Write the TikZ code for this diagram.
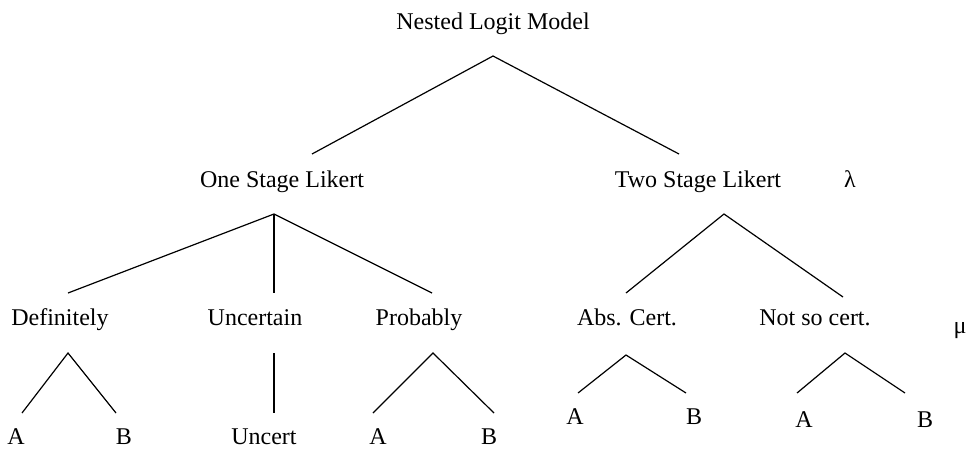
\documentclass[tikz,border=0pt]{standalone}
\usepackage{fontspec}
\setmainfont{Liberation Serif}
\usepackage{tikz}

\begin{document}
\begin{tikzpicture}[x=1pt,y=-1pt,line width=1.2pt,
	every node/.style={anchor=base,inner sep=0pt,font=\fontsize{24}{28}\selectfont}]
	\useasboundingbox (0,0) rectangle (974,448);

	% labels
	\node (0) at (493,29) {Nested Logit Model};
	\node (1) at (282,187) {One Stage Likert};
	\node (2) at (698,187) {Two Stage Likert};
	\node (lam) at (850,187) {λ};
	\node (11) at (60,325) {Definitely};
	\node (12) at (255,325) {Uncertain};
	\node (13) at (419,325) {Probably};
	\node (21) at (627,325) {Abs. Cert.};
	\node (22) at (815,325) {Not so cert.};
	\node (mu) at (960,333) {μ};
	\node (111) at (16,444) {A};
	\node (112) at (124,444) {B};
	\node (121) at (264,444) {Uncert};
	\node (131) at (378,444) {A};
	\node (132) at (489,444) {B};
	\node (211) at (575,424) {A};
	\node (212) at (694,424) {B};
	\node (221) at (804,427) {A};
	\node (222) at (925,427) {B};

	% branch points
	\coordinate (r) at (493,56);
	\coordinate (r1) at (312,154);
	\coordinate (r2) at (679,154);
	\coordinate (o) at (274,214);
	\coordinate (o1) at (68,293);
	\coordinate (o2) at (274,293);
	\coordinate (o3) at (432,293);
	\coordinate (t) at (724,214);
	\coordinate (t1) at (626,293);
	\coordinate (t2) at (843,297);
	\coordinate (d) at (68,353);
	\coordinate (d1) at (22,413);
	\coordinate (d2) at (116,413);
	\coordinate (u) at (274,353);
	\coordinate (u1) at (274,413);
	\coordinate (p) at (433,353);
	\coordinate (p1) at (373,413);
	\coordinate (p2) at (494,413);
	\coordinate (a) at (626,355);
	\coordinate (a1) at (578,393);
	\coordinate (a2) at (686,393);
	\coordinate (n) at (845,353);
	\coordinate (n1) at (797,393);
	\coordinate (n2) at (905,393);

	\draw (r1) -- (r) -- (r2);
	\draw (o1) -- (o) -- (o3);
	\draw (o) -- (o2);
	\draw (t1) -- (t) -- (t2);
	\draw (d1) -- (d) -- (d2);
	\draw (u) -- (u1);
	\draw (p1) -- (p) -- (p2);
	\draw (a1) -- (a) -- (a2);
	\draw (n1) -- (n) -- (n2);
\end{tikzpicture}
\end{document}
